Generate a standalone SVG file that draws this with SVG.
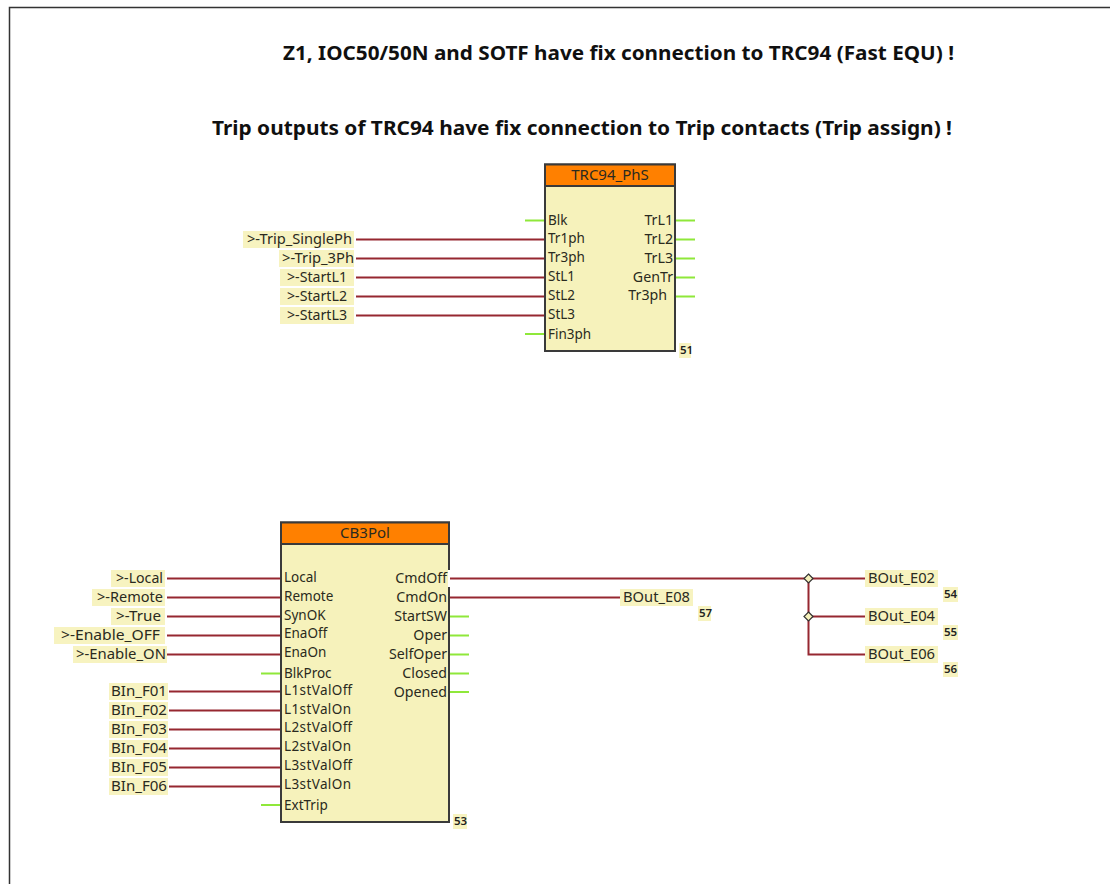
<svg xmlns="http://www.w3.org/2000/svg" width="1110" height="884" viewBox="0 0 1110 884">
<style>
text{font-family:"Noto Sans","Open Sans","Liberation Sans",sans-serif;font-size:13.500px;fill:#2a2a20}
.t{font-weight:700;font-size:19px;fill:#101010}
.n{font-size:11.500px;font-weight:600;fill:#222}
.h{font-size:15px;text-anchor:middle}
.e{text-anchor:end;font-size:14.200px}
.l{font-size:14.500px}
.bg{fill:#f7f3c0}
.box{fill:#f6f2bb;stroke:#3a3a3a;stroke-width:2}
.hd{fill:#ff8000;stroke:#3a3a3a;stroke-width:2}
.r{stroke:#962730;stroke-width:2;fill:none}
.g{stroke:#8fe83a;stroke-width:2;fill:none}
.j{fill:#f6f2bb;stroke:#333;stroke-width:1.2}
</style>
<rect width="1110" height="884" fill="#fff"/>
<path id="frame" d="M9.500 884V7.500H1110" fill="none" stroke="#333" stroke-width="1.500"/>
<g id="titles">
<text class="t" x="283" y="60" textLength="671" lengthAdjust="spacingAndGlyphs">Z1, IOC50/50N and SOTF have fix connection to TRC94 (Fast EQU) !</text>
<text class="t" x="212" y="135" textLength="740" lengthAdjust="spacingAndGlyphs">Trip outputs of TRC94 have fix connection to Trip contacts (Trip assign) !</text>
</g>
<g id="connectors">
<path class="r" d="M356 239.500H545M356 258.500H545M356 277.500H545M356 296.500H545M356 315.500H545"/>
<path class="g" d="M525 220.500H545M525 334H545M675 220.500H695M675 239.500H695M675 258.500H695M675 277.500H695M675 296.500H695"/>
<path class="r" d="M167 578.500H281M167 597.500H281M167 616.500H281M167 635.500H281M167 654.500H281M169 691.500H281M169 710.500H281M169 729.500H281M169 748.500H281M169 767.500H281M169 786.500H281"/>
<path class="g" d="M261 673.500H281M261 805H281M449 616.500H469M449 635.500H469M449 654.500H469M449 673.500H469M449 692H469"/>
<path class="r" d="M449 578.500H865M449 597.500H620M808.500 578.500V654.500H865M808.500 616.500H865"/>
</g>
<g id="TRC94_PhS">
<rect class="box" x="545" y="164.500" width="130" height="186.500"/>
<rect class="hd" x="545" y="164.500" width="130" height="21.500"/>
<text class="h" x="610" y="180">TRC94_PhS</text>
<text x="548" y="225">Blk</text><text x="548" y="243">Tr1ph</text><text x="548" y="262">Tr3ph</text><text x="548" y="281">StL1</text><text x="548" y="300">StL2</text><text x="548" y="319">StL3</text><text x="548" y="339">Fin3ph</text>
<text class="e" x="673" y="225">TrL1</text><text class="e" x="673" y="244">TrL2</text><text class="e" x="673" y="263">TrL3</text><text class="e" x="673" y="282">GenTr</text><text class="e" x="667" y="300">Tr3ph</text>
<rect class="bg" x="679" y="343" width="12" height="15"/><text class="n" x="680" y="354">51</text>
</g>
<g id="CB3Pol">
<rect class="box" x="281" y="522.500" width="168" height="299.500"/>
<rect class="hd" x="281" y="522.500" width="168" height="21.500"/>
<path d="M449 570V587" stroke="#fff" stroke-width="2"/>
<text class="h" x="365" y="538">CB3Pol</text>
<text x="284" y="582">Local</text><text x="284" y="601">Remote</text><text x="284" y="620">SynOK</text><text x="284" y="638">EnaOff</text><text x="284" y="657">EnaOn</text><text x="284" y="678">BlkProc</text><text x="284" y="695" textLength="68">L1stValOff</text><text x="284" y="714" textLength="67">L1stValOn</text><text x="284" y="732" textLength="68">L2stValOff</text><text x="284" y="751" textLength="67">L2stValOn</text><text x="284" y="770" textLength="68">L3stValOff</text><text x="284" y="789" textLength="67">L3stValOn</text><text x="284" y="810">ExtTrip</text>
<text class="e" x="447" y="583">CmdOff</text><text class="e" x="447" y="602">CmdOn</text><text class="e" x="447" y="621">StartSW</text><text class="e" x="447" y="640">Oper</text><text class="e" x="447" y="659">SelfOper</text><text class="e" x="447" y="678">Closed</text><text class="e" x="447" y="697">Opened</text>
<rect class="bg" x="453" y="814" width="14" height="15"/><text class="n" x="454" y="825">53</text>
</g>
<g id="inputs-top">
<rect class="bg" x="243" y="231" width="111" height="17"/><text class="l" x="247" y="244" textLength="105" lengthAdjust="spacingAndGlyphs">&gt;-Trip_SinglePh</text>
<rect class="bg" x="279" y="250" width="75" height="17"/><text class="l" x="282" y="263" textLength="72" lengthAdjust="spacingAndGlyphs">&gt;-Trip_3Ph</text>
<rect class="bg" x="280" y="269" width="74" height="17"/><text class="l" x="287" y="282" textLength="60" lengthAdjust="spacingAndGlyphs">&gt;-StartL1</text>
<rect class="bg" x="280" y="288" width="74" height="17"/><text class="l" x="287" y="301" textLength="60" lengthAdjust="spacingAndGlyphs">&gt;-StartL2</text>
<rect class="bg" x="280" y="307" width="74" height="17"/><text class="l" x="287" y="320" textLength="60" lengthAdjust="spacingAndGlyphs">&gt;-StartL3</text>
</g>
<g id="inputs-bottom">
<rect class="bg" x="111" y="570" width="54" height="17"/><text class="l" x="116" y="583" textLength="47" lengthAdjust="spacingAndGlyphs">&gt;-Local</text>
<rect class="bg" x="92" y="589" width="73" height="17"/><text class="l" x="97" y="602" textLength="66" lengthAdjust="spacingAndGlyphs">&gt;-Remote</text>
<rect class="bg" x="111" y="608" width="54" height="17"/><text class="l" x="116" y="621" textLength="45" lengthAdjust="spacingAndGlyphs">&gt;-True</text>
<rect class="bg" x="54" y="627" width="111" height="17"/><text class="l" x="61" y="640" textLength="99" lengthAdjust="spacingAndGlyphs">&gt;-Enable_OFF</text>
<rect class="bg" x="73" y="646" width="94" height="17"/><text class="l" x="76" y="659" textLength="90" lengthAdjust="spacingAndGlyphs">&gt;-Enable_ON</text>
<rect class="bg" x="109" y="683" width="59" height="17"/><text class="l" x="111" y="696" textLength="56" lengthAdjust="spacingAndGlyphs">BIn_F01</text>
<rect class="bg" x="109" y="702" width="59" height="17"/><text class="l" x="111" y="715" textLength="56" lengthAdjust="spacingAndGlyphs">BIn_F02</text>
<rect class="bg" x="109" y="721" width="59" height="17"/><text class="l" x="111" y="734" textLength="56" lengthAdjust="spacingAndGlyphs">BIn_F03</text>
<rect class="bg" x="109" y="740" width="59" height="17"/><text class="l" x="111" y="753" textLength="56" lengthAdjust="spacingAndGlyphs">BIn_F04</text>
<rect class="bg" x="109" y="759" width="59" height="17"/><text class="l" x="111" y="772" textLength="56" lengthAdjust="spacingAndGlyphs">BIn_F05</text>
<rect class="bg" x="109" y="778" width="59" height="17"/><text class="l" x="111" y="791" textLength="56" lengthAdjust="spacingAndGlyphs">BIn_F06</text>
</g>
<g id="outputs">
<rect class="bg" x="865" y="570" width="73" height="17"/><text class="l" x="868" y="583" textLength="67" lengthAdjust="spacingAndGlyphs">BOut_E02</text>
<rect class="bg" x="865" y="608" width="73" height="17"/><text class="l" x="868" y="621" textLength="67" lengthAdjust="spacingAndGlyphs">BOut_E04</text>
<rect class="bg" x="865" y="646" width="73" height="17"/><text class="l" x="868" y="659" textLength="67" lengthAdjust="spacingAndGlyphs">BOut_E06</text>
<rect class="bg" x="620" y="589" width="73" height="17"/><text class="l" x="623" y="602" textLength="67" lengthAdjust="spacingAndGlyphs">BOut_E08</text>
<rect class="bg" x="698" y="606" width="13" height="15"/><text class="n" x="699" y="617">57</text>
<rect class="bg" x="943" y="587" width="15" height="15"/><text class="n" x="944" y="598">54</text>
<rect class="bg" x="943" y="625" width="15" height="15"/><text class="n" x="944" y="636">55</text>
<rect class="bg" x="943" y="662" width="15" height="15"/><text class="n" x="944" y="673">56</text>
</g>
<g id="junctions">
<path class="j" d="M808.500 574l4.500 4.500-4.500 4.500-4.500-4.500z"/>
<path class="j" d="M808.500 612l4.500 4.500-4.500 4.500-4.500-4.500z"/>
</g>
</svg>
